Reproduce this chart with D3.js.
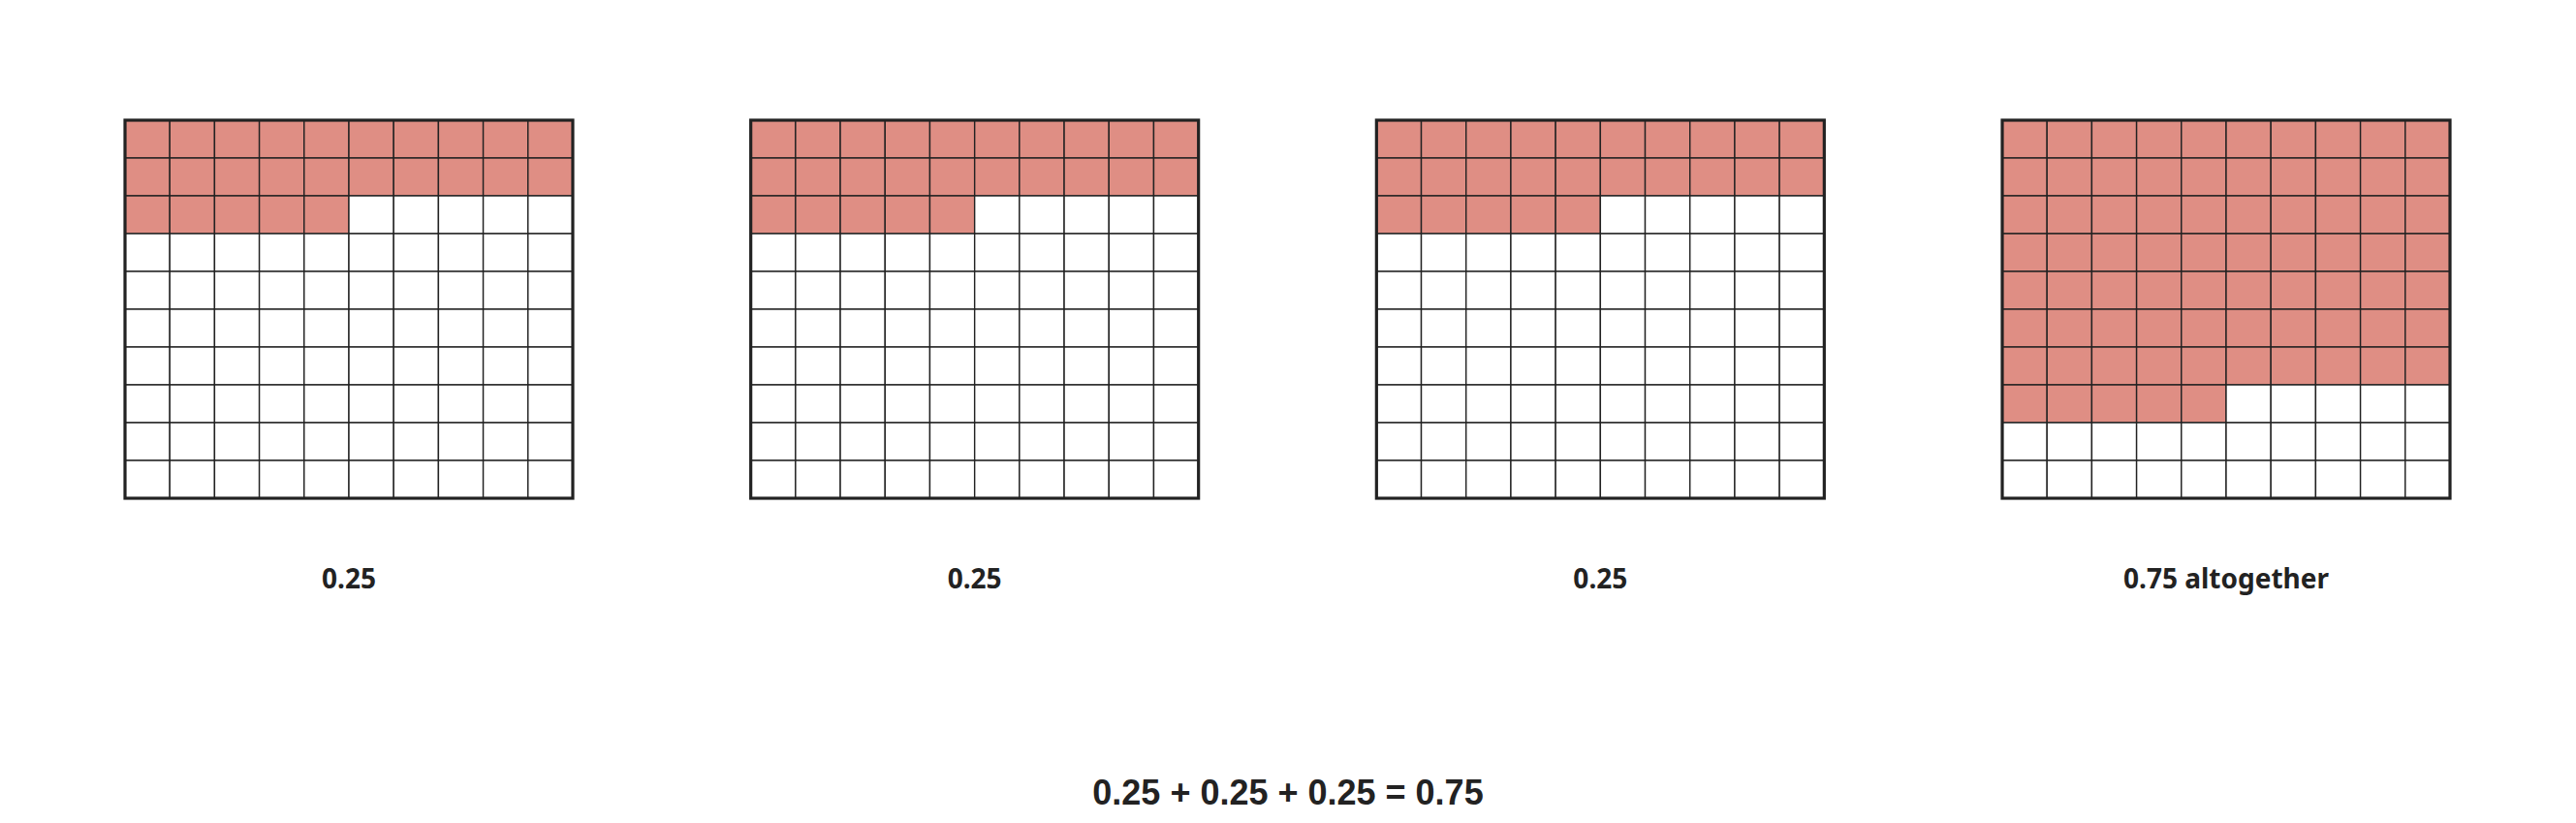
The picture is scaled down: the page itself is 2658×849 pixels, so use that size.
<!DOCTYPE html>
<html><head><meta charset="utf-8">
<script src="https://cdn.jsdelivr.net/npm/d3@7"></script>
<style>body{margin:0;background:#fff}</style></head>
<body><svg id="c" width="2658" height="849"></svg>
<script>
const panels = ["A","B","C","D"];
const filledCounts = [25, 25, 25, 75];
const labels = ["0.25", "0.25", "0.25", "0.75 altogether"];
const equation = "0.25 + 0.25 + 0.25 = 0.75";
const gridSize = 10;

const svg = d3.select("#c");
const W = 2658;
const gx = d3.scalePoint().domain(panels).range([129 + 231, 2066 + 231]);
const gw = 462, gh = 390;
const cx = d3.scaleBand().domain(d3.range(gridSize)).range([0, gw]);
const cy = d3.scaleBand().domain(d3.range(gridSize)).range([0, gh]);
const gridTop = 124;

panels.forEach((p, i) => {
  const g = svg.append("g").attr("transform", `translate(${gx(p) - gw/2},${gridTop})`);
  const cells = d3.range(gridSize * gridSize).map(k => ({r: Math.floor(k / gridSize), c: k % gridSize, f: k < filledCounts[i]}));
  g.selectAll("rect.cell").data(cells).join("rect")
    .attr("x", d => cx(d.c)).attr("y", d => cy(d.r))
    .attr("width", cx.bandwidth()).attr("height", cy.bandwidth())
    .attr("fill", d => d.f ? "#df8e84" : "#fff")
    .attr("stroke", "#222").attr("stroke-width", 1.4);
  g.append("rect").attr("width", gw).attr("height", gh)
    .attr("fill", "none").attr("stroke", "#222").attr("stroke-width", 3.2);
  svg.append("text").attr("x", gx(p)).attr("y", 607)
    .attr("text-anchor", "middle").attr("font-family", "'Noto Sans', sans-serif")
    .attr("font-weight", "bold").attr("font-size", 28).attr("fill", "#222")
    .text(labels[i]);
});
svg.append("text").attr("x", W / 2).attr("y", 830)
  .attr("text-anchor", "middle").attr("font-family", "'Liberation Sans', Arial, sans-serif")
  .attr("font-weight", "bold").attr("font-size", 36).attr("fill", "#222")
  .text(equation);
</script></body></html>
